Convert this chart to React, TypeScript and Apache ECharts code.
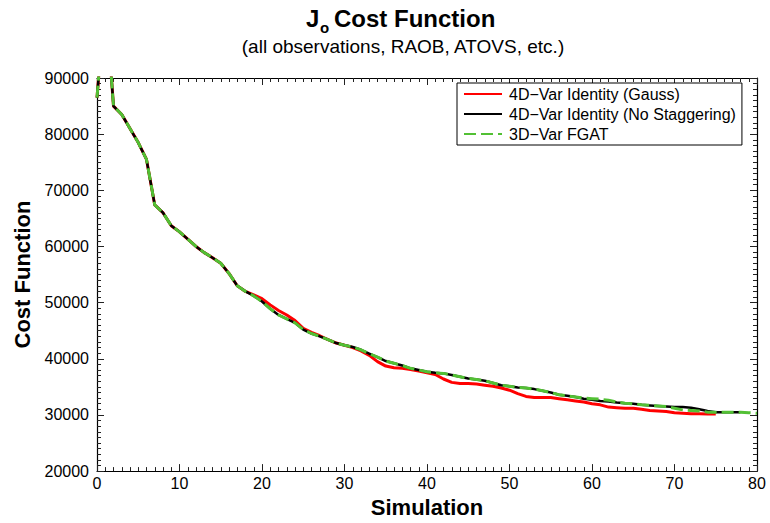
import React, { useEffect, useRef } from "react";
import * as echarts from "echarts";

const seriesNames = ["4D\u2212Var Identity (Gauss)", "4D\u2212Var Identity (No Staggering)", "3D\u2212Var FGAT"];

// Cost function values per simulation (index = simulation number, starting at 0)
const gaussValues = [
  86500, 105000, 85000, 83500, 81000, 78500, 75500, 67400, 66000, 63700,
  62600, 61300, 60000, 58900, 58000, 57000, 55200, 53000, 52000, 51400,
  50700, 49600, 48600, 47800, 46800, 45400, 44700, 44100, 43400, 42800,
  42400, 42000, 41400, 40600, 39500, 38700, 38400, 38300, 38100, 37800,
  37500, 37200, 36400, 35800, 35600, 35600, 35500, 35300, 35100, 34800,
  34400, 33800, 33300, 33100, 33100, 33100, 32900, 32700, 32500, 32300,
  32000, 31800, 31400, 31300, 31200, 31200, 31000, 30800, 30700, 30600,
  30400, 30300, 30200, 30200, 30150, 30150,
];

const noStaggerValues = [
  86500, 105000, 85000, 83500, 81000, 78500, 75500, 67400, 66000, 63700,
  62600, 61300, 60000, 58900, 58000, 57000, 55200, 53000, 52000, 51200,
  50200, 48900, 47800, 47100, 46400, 45200, 44500, 44000, 43400, 42800,
  42400, 42100, 41600, 40900, 40300, 39600, 39200, 38800, 38300, 38000,
  37700, 37500, 37400, 37100, 36800, 36500, 36300, 36100, 35700, 35300,
  35100, 34900, 34800, 34600, 34300, 34000, 33600, 33400, 33200, 32900,
  32700, 32500, 32400, 32200, 32100, 32000, 31800, 31700, 31600, 31500,
  31400, 31400, 31300, 31000, 30700, 30500, 30500, 30500, 30500,
];

const fgatValues = [
  86500, 105000, 85000, 83500, 81000, 78500, 75500, 67400, 66000, 63700,
  62600, 61300, 60000, 58900, 58000, 57000, 55200, 53000, 52000, 51200,
  50200, 48900, 47800, 47100, 46400, 45200, 44500, 44000, 43400, 42800,
  42400, 42100, 41600, 40900, 40300, 39600, 39200, 38800, 38300, 38000,
  37700, 37500, 37400, 37100, 36800, 36500, 36300, 36100, 35700, 35300,
  35100, 34900, 34800, 34600, 34300, 34000, 33600, 33400, 33200, 33000,
  32900, 32800, 32600, 32300, 32100, 32000, 31800, 31700, 31600, 31500,
  31200, 30900, 30800, 30700, 30500, 30500, 30500, 30500, 30500, 30400,
  30300,
];

const xMin = 0, xMax = 80, xInterval = 10;
const yMin = 20000, yMax = 90000, yInterval = 10000;

const FONT = "'Liberation Sans', Arial, Helvetica, sans-serif";

export default function App() {
  const ref = useRef<HTMLDivElement>(null);
  useEffect(() => {
    if (!ref.current) return;
    const chart = echarts.init(ref.current, undefined, { renderer: "svg" });
    const toPairs = (arr: number[]) => arr.map((v, i) => [i, v]);
    const tickStyle = { color: "#222", width: 1 };
    const axisCommon = (isX: boolean, primary: boolean) => ({
      type: "value",
      min: isX ? xMin : yMin,
      max: isX ? xMax : yMax,
      interval: isX ? xInterval : yInterval,
      axisLine: { show: true, onZero: false, lineStyle: { color: "#000", width: 1.2 } },
      axisTick: { show: true, inside: true, length: 7, lineStyle: tickStyle },
      minorTick: { show: true, splitNumber: 10, length: 4, lineStyle: tickStyle },
      splitLine: { show: false },
      axisLabel: {
        show: primary,
        color: "#000",
        fontSize: 16,
        fontFamily: FONT,
        margin: isX ? 4 : 8,
        formatter: (v: number) => String(v),
      },
    });
    chart.setOption({
      animation: false,
      backgroundColor: "#fff",
      grid: { left: 97, right: 13, top: 78, bottom: 45 },
      graphic: [
        { type: "text", left: 306, top: 6, style: { text: "J", font: `bold 24px ${FONT}`, fill: "#000" } },
        { type: "text", left: 320, top: 20, style: { text: "o", font: `bold 15px ${FONT}`, fill: "#000" } },
        { type: "text", left: 334, top: 6, style: { text: "Cost Function", font: `bold 24px ${FONT}`, fill: "#000" } },
        {
          type: "text",
          x: 403,
          y: 37,
          style: {
            text: "(all observations, RAOB, ATOVS, etc.)",
            font: `19px ${FONT}`,
            fill: "#000",
            textAlign: "center",
          },
        },
      ],
      legend: {
        orient: "vertical",
        left: 457,
        top: 83,
        data: seriesNames,
        itemWidth: 38,
        itemHeight: 14,
        itemGap: 4,
        padding: [3, 6, 3, 6],
        borderColor: "#000",
        borderWidth: 1,
        backgroundColor: "#fff",
        itemStyle: { opacity: 0 },
        textStyle: { fontSize: 16, fontFamily: FONT, color: "#000", padding: [0, 0, 0, 2] },
      },
      xAxis: [
        {
          ...axisCommon(true, true),
          position: "bottom",
          name: "Simulation",
          nameLocation: "middle",
          nameGap: 18,
          nameTextStyle: { fontSize: 22, fontWeight: "bold", fontFamily: FONT, color: "#000" },
        },
        { ...axisCommon(true, false), position: "top" },
      ],
      yAxis: [
        {
          ...axisCommon(false, true),
          position: "left",
          name: "Cost Function",
          nameLocation: "middle",
          nameRotate: 90,
          nameGap: 58,
          nameTextStyle: { fontSize: 22, fontWeight: "bold", fontFamily: FONT, color: "#000" },
        },
        { ...axisCommon(false, false), position: "right" },
      ],
      series: [
        {
          name: seriesNames[0],
          type: "line",
          data: toPairs(gaussValues),
          symbol: "none",
          clip: true,
          color: "#ff0000",
          lineStyle: { color: "#ff0000", width: 3 },
          z: 2,
        },
        {
          name: seriesNames[1],
          type: "line",
          data: toPairs(noStaggerValues),
          symbol: "none",
          clip: true,
          color: "#000000",
          lineStyle: { color: "#000000", width: 2.5 },
          z: 3,
        },
        {
          name: seriesNames[2],
          type: "line",
          data: toPairs(fgatValues),
          symbol: "none",
          clip: true,
          color: "#52c034",
          lineStyle: { color: "#52c034", width: 3, type: [12, 5] },
          z: 4,
        },
      ],
    });
    return () => chart.dispose();
  }, []);
  return <div ref={ref} style={{ width: 770, height: 523, position: "absolute", left: 0, top: 0 }} />;
}
